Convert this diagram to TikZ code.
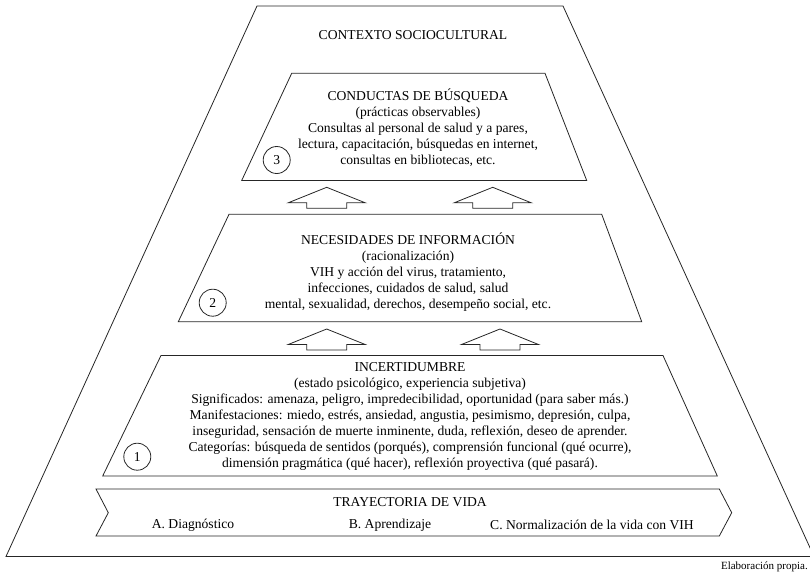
\documentclass[tikz,border=0pt]{standalone}
\usepackage{fontspec}
\setmainfont{Liberation Serif}
\tikzset{
  shapeline/.style={draw=black!85, line width=0.8pt, line join=miter},
  txt/.style={font=\fontsize{13.6}{16}\selectfont, align=center, inner sep=0pt},
  small/.style={font=\fontsize{11}{13}\selectfont, inner sep=0pt},
  num/.style={circle, draw=black!85, line width=0.8pt, minimum size=27pt, inner sep=0pt, font=\fontsize{13.6}{16}\selectfont},
  uparr/.pic={\draw[shapeline] (0,0) -- (38.5,15.5) -- (20,15.5) -- (20,21) -- (-20,21) -- (-20,15.5) -- (-38.5,15.5) -- cycle;}
}
\begin{document}
\begin{tikzpicture}[x=1pt,y=-1pt]
\useasboundingbox (0,0) rectangle (810,576);
% outer context
\draw[shapeline] (257,6) -- (563,6) -- (814,556.5) -- (6,556.5) -- cycle;
\node[txt] (ctx) at (413,35) {CONTEXTO SOCIOCULTURAL};
% level 3
\draw[shapeline] (291.7,73.3) -- (545,73.3) -- (586.7,180.5) -- (241.7,180.5) -- cycle;
\node[txt] (b3) at (418,128) {CONDUCTAS DE BÚSQUEDA\\(prácticas observables)\\Consultas al personal de salud y a pares,\\lectura, capacitación, búsquedas en internet,\\consultas en bibliotecas, etc.};
\node[num] (n3) at (276.7,160) {3};
% arrows 2 -> 3
\pic at (326.7,187.3) {uparr};
\pic at (492.7,187.3) {uparr};
% level 2
\draw[shapeline] (229,214.3) -- (601.7,214.3) -- (641.7,321.7) -- (178.3,321.7) -- cycle;
\node[txt] (b2) at (408,272.5) {NECESIDADES DE INFORMACIÓN\\(racionalización)\\VIH y acción del virus, tratamiento,\\infecciones, cuidados de salud, salud\\mental, sexualidad, derechos, desempeño social, etc.};
\node[num] (n2) at (212.7,302.7) {2};
% arrows 1 -> 2
\pic at (326.7,329) {uparr};
\pic at (500,329) {uparr};
% level 1
\draw[shapeline] (161,355.5) -- (663,355.5) -- (717.3,476) -- (102.7,476) -- cycle;
\node[txt] (b1) at (410,416) {INCERTIDUMBRE\\(estado psicológico, experiencia subjetiva)\\Significados: amenaza, peligro, impredecibilidad, oportunidad (para saber más.)\\Manifestaciones: miedo, estrés, ansiedad, angustia, pesimismo, depresión, culpa,\\inseguridad, sensación de muerte inminente, duda, reflexión, deseo de aprender.\\Categorías: búsqueda de sentidos (porqués), comprensión funcional (qué ocurre),\\dimensión pragmática (qué hacer), reflexión proyectiva (qué pasará).};
\node[num] (n1) at (137.3,456.7) {1};
% trajectory
\draw[shapeline] (96,489) -- (719.3,489) -- (731.7,512.7) -- (719.3,536) -- (96,536) -- (108.3,512.7) -- cycle;
\node[txt] (tr) at (410,502) {TRAYECTORIA DE VIDA};
\node[txt] (ta) at (193,525) {A. Diagnóstico};
\node[txt] (tb) at (390,525) {B. Aprendizaje};
\node[txt] (tc) at (592,525) {C. Normalización de la vida con VIH};
\node[small, anchor=east] (src) at (808,567) {Elaboración propia.};
\end{tikzpicture}
\end{document}
